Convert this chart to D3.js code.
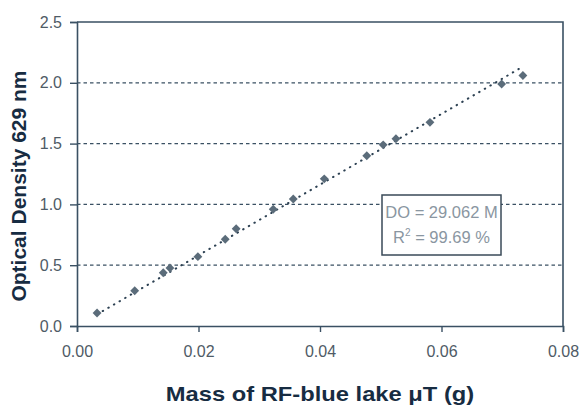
<!DOCTYPE html>
<html lang="en">
<head>
<meta charset="UTF-8">
<title>Optical density vs mass</title>
<script src="https://d3js.org/d3.v7.min.js"></script>
<style>
  body { margin: 0; background: #fff; }
  text { font-family: "Liberation Sans", Arial, sans-serif; }
</style>
</head>
<body>
<div id="chart"></div>
<script>
var mass = [0.0033, 0.0095, 0.0142, 0.0153, 0.0199, 0.0244, 0.0262, 0.0323, 0.0356,
            0.0407, 0.0477, 0.0504, 0.0525, 0.0581, 0.0699, 0.0734];
var density = [0.107, 0.29, 0.438, 0.477, 0.57, 0.713, 0.80, 0.96, 1.044,
               1.21, 1.40, 1.49, 1.54, 1.675, 1.99, 2.06];
var slope = 29.062;
var xTicks = [0, 0.02, 0.04, 0.06, 0.08];
var yTicks = [0, 0.5, 1.0, 1.5, 2.0, 2.5];
var fitEq = "DO = 29.062 M";
var fitR2 = "99.69 %";

var W = 580, H = 407;
var margin = {top: 22, right: 17, bottom: 81, left: 77};
var width = W - margin.left - margin.right,
    height = H - margin.top - margin.bottom;

var axisCol = "#3a5063", labelCol = "#4f5b66", titleCol = "#172c42";

var svg = d3.select("#chart").append("svg")
    .attr("width", W).attr("height", H);
var g = svg.append("g")
    .attr("transform", "translate(" + margin.left + "," + margin.top + ")");

var x = d3.scaleLinear().domain([0, 0.08]).range([0, width]);
var y = d3.scaleLinear().domain([0, 2.5]).range([height, 0]);

// dashed gridlines
g.selectAll(".grid").data(yTicks.slice(1, -1)).enter().append("line")
    .attr("x1", 0).attr("x2", width)
    .attr("y1", function(d) { return y(d); })
    .attr("y2", function(d) { return y(d); })
    .attr("stroke", axisCol).attr("stroke-width", 1.2)
    .attr("stroke-dasharray", "3.5,3");

// frame top + right
g.append("path")
    .attr("d", "M0,0H" + width + "V" + height)
    .attr("fill", "none").attr("stroke", axisCol).attr("stroke-width", 1.6);

// axes
var xAxis = g.append("g")
    .attr("transform", "translate(0," + height + ")")
    .call(d3.axisBottom(x).tickValues(xTicks).tickFormat(d3.format(".2f"))
        .tickSize(6).tickPadding(14));
var yAxis = g.append("g")
    .call(d3.axisLeft(y).tickValues(yTicks).tickFormat(d3.format(".1f"))
        .tickSize(7).tickPadding(8));

[xAxis, yAxis].forEach(function(a) {
    a.select(".domain").attr("stroke", axisCol).attr("stroke-width", 1.6);
    a.selectAll(".tick line").attr("stroke", axisCol).attr("stroke-width", 1.4);
    a.selectAll(".tick text").attr("fill", labelCol)
        .style("font-size", "16px");
});

// fitted line through origin
var x0 = d3.min(mass), x1 = d3.max(mass);
g.append("line")
    .attr("x1", x(x0)).attr("y1", y(slope * x0))
    .attr("x2", x(x1)).attr("y2", y(slope * x1))
    .attr("stroke", "#2c4052").attr("stroke-width", 2)
    .attr("stroke-linecap", "round")
    .attr("stroke-dasharray", "0.5,6");

// diamond markers
var pts = mass.map(function(m, i) { return [m, density[i]]; });
g.selectAll(".pt").data(pts).enter().append("path")
    .attr("d", d3.symbol().type(d3.symbolDiamond2).size(50))
    .attr("transform", function(d) { return "translate(" + x(d[0]) + "," + y(d[1]) + ")"; })
    .attr("fill", "#5b6c7a");

// annotation box
var bx = 382 - margin.left, by = 195 - margin.top;
g.append("rect")
    .attr("x", bx).attr("y", by).attr("width", 119).attr("height", 60)
    .attr("fill", "#fff").attr("stroke", "#3a4a58").attr("stroke-width", 1.5);
g.append("text")
    .attr("x", bx + 59.5).attr("y", by + 23)
    .attr("text-anchor", "middle")
    .attr("fill", "#8a96a1").style("font-size", "16.5px")
    .text(fitEq);
var r2 = g.append("text")
    .attr("x", bx + 59.5).attr("y", by + 48)
    .attr("text-anchor", "middle")
    .attr("fill", "#8a96a1").style("font-size", "16.5px");
r2.append("tspan").text("R");
r2.append("tspan").attr("dy", -7).style("font-size", "10px").text("2");
r2.append("tspan").attr("dy", 7).text(" = " + fitR2);

// axis titles
svg.append("text")
    .attr("transform", "translate(320,401) scale(1.13,1)")
    .attr("text-anchor", "middle")
    .attr("fill", titleCol).style("font-size", "21px").style("font-weight", "bold")
    .text("Mass of RF-blue lake \u03bcT (g)");
svg.append("text")
    .attr("transform", "translate(26,186) rotate(-90)")
    .attr("text-anchor", "middle")
    .attr("fill", titleCol).style("font-size", "21px").style("font-weight", "bold")
    .text("Optical Density 629 nm");
</script>
</body>
</html>
